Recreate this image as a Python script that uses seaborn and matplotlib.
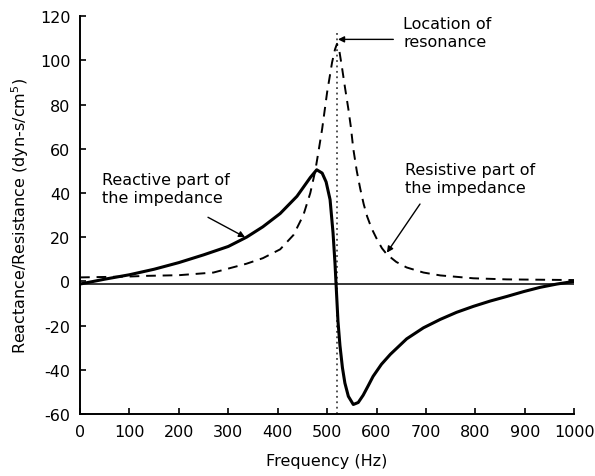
import numpy as np
import pandas as pd
import matplotlib
matplotlib.use("Agg")
import matplotlib.pyplot as plt
import seaborn as sns

# values
react_freq = [0, 50, 100, 150, 200, 250, 300, 337, 370, 405, 439, 466, 479, 490, 498, 506,
              512, 516, 519, 522, 526, 531, 536, 543, 553, 563, 573, 583, 593, 610, 628,
              661, 695, 729, 762, 796, 830, 864, 898, 931, 965, 1000]
react_val = [-1.2, 1, 3, 5.5, 8.5, 12, 15.8, 20, 24.7, 30.7, 38.5, 47, 50.5, 49, 45, 37,
             22, 8, -5, -18, -29, -39, -46, -52, -55.7, -54.8, -51.5, -47.3, -43, -37.5, -33,
             -26, -21, -17.2, -14, -11.3, -8.9, -6.8, -4.6, -2.7, -1.2, 0]

resist_freq = [0, 100, 135, 200, 270, 337, 370, 405, 432, 452, 466, 476, 482, 490, 500, 510,
               516, 520, 525, 530, 536, 543, 548, 553, 560, 567, 574, 581, 590, 601, 611,
               621, 640, 661, 695, 729, 796, 864, 1000]
resist_val = [1.8, 2.2, 2.5, 2.8, 4, 8, 10.5, 14.5, 21, 30, 40, 50, 58, 69, 85.5, 99,
              105, 107.5, 104, 97, 88, 78, 70, 60, 50, 42, 35, 29.4, 24, 19, 15,
              12.2, 8.8, 6.3, 4, 2.7, 1.4, 0.9, 0.6]

resonance = 520
zero_line = -1
x_ticks = list(range(0, 1001, 100))
y_ticks = list(range(-60, 121, 20))

df_react = pd.DataFrame({"freq": react_freq, "val": react_val})
df_resist = pd.DataFrame({"freq": resist_freq, "val": resist_val})

sns.set_theme(style="ticks")
plt.rcParams["font.family"] = ["DejaVu Sans"]
plt.rcParams["axes.unicode_minus"] = False
plt.rcParams["text.color"] = "black"
plt.rcParams["axes.labelcolor"] = "black"

fig, ax = plt.subplots(figsize=(5.95, 4.77), dpi=100)
fig.subplots_adjust(left=0.1345, right=0.965, bottom=0.13, top=0.964)

ax.axhline(zero_line, color="black", lw=1.1, zorder=1)
ax.plot([resonance, resonance], [-60, 113], color="#444444", lw=1.3, linestyle=(0, (1, 2)), zorder=1)

sns.lineplot(data=df_resist, x="freq", y="val", ax=ax, color="black", lw=1.4,
             linestyle=(0, (5, 3.5)), sort=False)
sns.lineplot(data=df_react, x="freq", y="val", ax=ax, color="black", lw=2.2, sort=False)

ax.set_xlim(0, 1000)
ax.set_ylim(-60, 120)
ax.set_xticks(x_ticks)
ax.set_yticks(y_ticks)
ax.tick_params(direction="in", length=4, width=1.2, labelsize=11.5, colors="black", pad=7)
for s in ["top", "right"]:
    ax.spines[s].set_visible(False)
for s in ["left", "bottom"]:
    ax.spines[s].set_linewidth(1.4)
    ax.spines[s].set_color("black")

ax.set_xlabel("Frequency (Hz)", fontsize=11.5, labelpad=10)
ax.set_ylabel("Reactance/Resistance (dyn-s/cm$^5$)", fontsize=11.5, labelpad=6)

arrow = dict(arrowstyle="-|>", color="black", lw=1.0, mutation_scale=9, shrinkA=0, shrinkB=0)

ax.text(654, 120, "Location of\nresonance", ha="left", va="top", fontsize=11.5)
ax.annotate("", xy=(522, 109.5), xytext=(634, 109.5), arrowprops=arrow)

ax.text(45, 49.3, "Reactive part of\nthe impedance", ha="left", va="top", fontsize=11.5)
ax.annotate("", xy=(334, 20), xytext=(259, 29), arrowprops=arrow)

ax.text(658, 53.8, "Resistive part of\nthe impedance", ha="left", va="top", fontsize=11.5)
ax.annotate("", xy=(621, 13), xytext=(688, 35), arrowprops=arrow)

fig.savefig("out.png", dpi=100)
